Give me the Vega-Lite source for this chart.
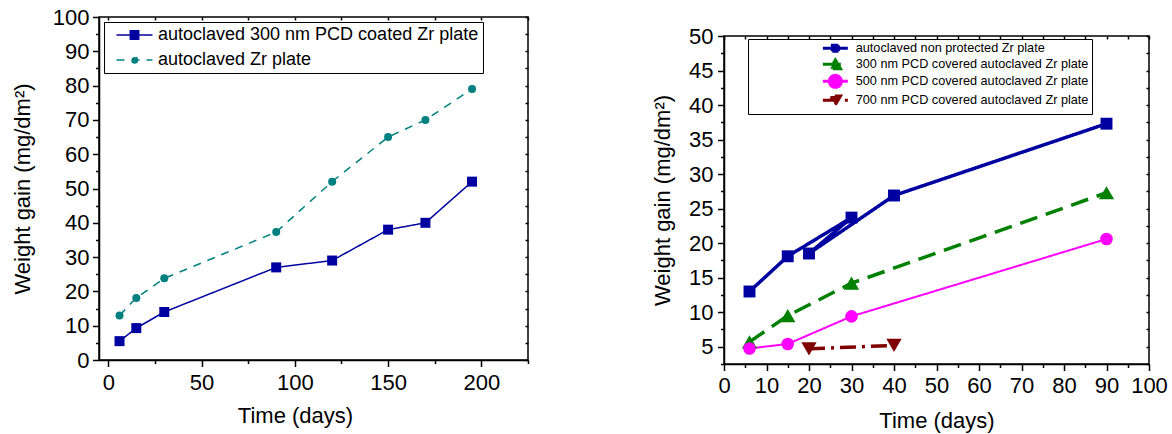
{
  "$schema": "https://vega.github.io/schema/vega-lite/v6.json",
  "background": "white",
  "padding": {"left": 10, "top": 5, "right": 5, "bottom": 5},
  "spacing": 120,
  "resolve": {"scale": {"stroke": "independent", "strokeDash": "independent", "strokeWidth": "independent", "fill": "independent", "shape": "independent", "size": "independent", "x": "independent", "y": "independent"}},
  "config": {
    "font": "Liberation Sans",
    "view": {"stroke": "black", "strokeWidth": 1.5},
    "axis": {"domainColor": "black", "domainWidth": 1.5, "tickColor": "black", "tickWidth": 1.5, "labelColor": "black", "labelFont": "Liberation Sans", "labelFontSize": 22, "titleFont": "Liberation Sans", "titleFontSize": 22, "titleFontWeight": "normal", "titleColor": "black", "grid": false, "labelOverlap": false, "labelFlush": false},
    "legend": {"labelFont": "Liberation Sans", "labelColor": "black", "labelLimit": 600}
  },
  "hconcat": [
    {
      "width": 429,
      "height": 343,
      "data": {"values": [
        {"days": 6, "gain": 5.5, "series": "autoclaved 300 nm PCD coated Zr plate"},
        {"days": 15, "gain": 9.3, "series": "autoclaved 300 nm PCD coated Zr plate"},
        {"days": 30, "gain": 14, "series": "autoclaved 300 nm PCD coated Zr plate"},
        {"days": 90, "gain": 27, "series": "autoclaved 300 nm PCD coated Zr plate"},
        {"days": 120, "gain": 29, "series": "autoclaved 300 nm PCD coated Zr plate"},
        {"days": 150, "gain": 38, "series": "autoclaved 300 nm PCD coated Zr plate"},
        {"days": 170, "gain": 40, "series": "autoclaved 300 nm PCD coated Zr plate"},
        {"days": 195, "gain": 52, "series": "autoclaved 300 nm PCD coated Zr plate"},
        {"days": 6, "gain": 13, "series": "autoclaved Zr plate"},
        {"days": 15, "gain": 18.1, "series": "autoclaved Zr plate"},
        {"days": 30, "gain": 23.8, "series": "autoclaved Zr plate"},
        {"days": 90, "gain": 37.3, "series": "autoclaved Zr plate"},
        {"days": 120, "gain": 52, "series": "autoclaved Zr plate"},
        {"days": 150, "gain": 65, "series": "autoclaved Zr plate"},
        {"days": 170, "gain": 70, "series": "autoclaved Zr plate"},
        {"days": 195, "gain": 79, "series": "autoclaved Zr plate"}
      ]},
      "layer": [
        {
          "mark": {"type": "point", "filled": true, "opacity": 0, "clip": false},
          "encoding": {
            "x": {"field": "days", "type": "quantitative", "scale": {"domain": [-5, 225], "nice": false, "zero": false}, "axis": null},
            "y": {"field": "gain", "type": "quantitative", "scale": {"domain": [0, 100], "nice": false, "zero": false}, "axis": null},
            "fill": {"field": "series", "type": "nominal", "scale": {"domain": ["autoclaved 300 nm PCD coated Zr plate", "autoclaved Zr plate"], "range": ["#0000A0", "#008080"]},
              "legend": {"orient": "none", "legendX": 5, "legendY": 5, "direction": "vertical", "title": null, "padding": 4, "rowPadding": 7, "labelFontSize": 18, "symbolSize": 144, "symbolStrokeWidth": 1.5, "symbolOpacity": 1, "symbolOffset": 17.5, "labelOffset": 14.5, "strokeColor": "black"}},
            "stroke": {"field": "series", "type": "nominal", "scale": {"domain": ["autoclaved 300 nm PCD coated Zr plate", "autoclaved Zr plate"], "range": ["#0000A0", "#008080"]},
              "legend": {"orient": "none", "legendX": 5, "legendY": 5, "direction": "vertical", "title": null, "padding": 4, "rowPadding": 7, "labelFontSize": 18, "symbolSize": 144, "symbolStrokeWidth": 1.5, "symbolOpacity": 1, "symbolOffset": 17.5, "labelOffset": 14.5, "strokeColor": "black"}},
            "strokeDash": {"field": "series", "type": "nominal", "scale": {"domain": ["autoclaved 300 nm PCD coated Zr plate", "autoclaved Zr plate"], "range": [[1, 0], [8, 7]]},
              "legend": {"orient": "none", "legendX": 5, "legendY": 5, "direction": "vertical", "title": null, "padding": 4, "rowPadding": 7, "labelFontSize": 18, "symbolSize": 144, "symbolStrokeWidth": 1.5, "symbolOpacity": 1, "symbolOffset": 17.5, "labelOffset": 14.5, "strokeColor": "black"}},
            "shape": {"field": "series", "type": "nominal", "scale": {"domain": ["autoclaved 300 nm PCD coated Zr plate", "autoclaved Zr plate"], "range": ["M-3,0H3M-0.7,-0.7H0.7V0.7H-0.7Z", "M-3,0H3M0.5,0A0.5,0.5 0 1,1 -0.5,0A0.5,0.5 0 1,1 0.5,0Z"]},
              "legend": {"orient": "none", "legendX": 5, "legendY": 5, "direction": "vertical", "title": null, "padding": 4, "rowPadding": 7, "labelFontSize": 18, "symbolSize": 144, "symbolStrokeWidth": 1.5, "symbolOpacity": 1, "symbolOffset": 17.5, "labelOffset": 14.5, "strokeColor": "black"}}
          }
        },
        {
          "mark": {"type": "line", "strokeWidth": 1.5, "clip": false},
          "encoding": {
            "x": {"field": "days", "type": "quantitative", "scale": {"domain": [-5, 225], "nice": false, "zero": false},
              "axis": {"orient": "bottom", "values": [0, 25, 50, 75, 100, 125, 150, 175, 200, 225], "labelExpr": "datum.value % 50 === 0 ? datum.label : ''", "tickSize": {"condition": {"test": "datum.value % 50 === 0", "value": 6.5}, "value": 3.5}, "labelPadding": 6, "title": "Time (days)", "titlePadding": 12, "titleX": 196}},
            "y": {"field": "gain", "type": "quantitative", "scale": {"domain": [0, 100], "nice": false, "zero": false},
              "axis": {"orient": "left", "values": [0, 5, 10, 15, 20, 25, 30, 35, 40, 45, 50, 55, 60, 65, 70, 75, 80, 85, 90, 95, 100], "labelExpr": "datum.value % 10 === 0 ? datum.label : ''", "tickSize": {"condition": {"test": "datum.value % 10 === 0", "value": 6.5}, "value": 3.5}, "labelPadding": 3.5, "title": "Weight gain  (mg/dm²)", "titlePadding": 18}},
            "stroke": {"field": "series", "type": "nominal", "scale": {"domain": ["autoclaved 300 nm PCD coated Zr plate", "autoclaved Zr plate"], "range": ["#0000A0", "#008080"]}, "legend": null},
            "strokeDash": {"field": "series", "type": "nominal", "scale": {"domain": ["autoclaved 300 nm PCD coated Zr plate", "autoclaved Zr plate"], "range": [[1, 0], [8, 7]]}, "legend": null},
            "order": {"value": null}
          }
        },
        {
          "mark": {"type": "point", "filled": true, "opacity": 1, "clip": false},
          "encoding": {
            "x": {"field": "days", "type": "quantitative", "scale": {"domain": [-5, 225], "nice": false, "zero": false},
              "axis": {"orient": "top", "values": [0, 25, 50, 75, 100, 125, 150, 175, 200, 225], "labels": false, "domain": false, "tickSize": -3, "title": null}},
            "y": {"field": "gain", "type": "quantitative", "scale": {"domain": [0, 100], "nice": false, "zero": false},
              "axis": {"orient": "right", "values": [0, 5, 10, 15, 20, 25, 30, 35, 40, 45, 50, 55, 60, 65, 70, 75, 80, 85, 90, 95, 100], "labels": false, "domain": false, "tickSize": -3, "title": null}},
            "fill": {"field": "series", "type": "nominal", "scale": {"domain": ["autoclaved 300 nm PCD coated Zr plate", "autoclaved Zr plate"], "range": ["#0000A0", "#008080"]}, "legend": null},
            "shape": {"field": "series", "type": "nominal", "scale": {"domain": ["autoclaved 300 nm PCD coated Zr plate", "autoclaved Zr plate"], "range": ["square", "circle"]}, "legend": null},
            "size": {"field": "series", "type": "nominal", "scale": {"type": "ordinal", "domain": ["autoclaved 300 nm PCD coated Zr plate", "autoclaved Zr plate"], "range": [100, 64]}, "legend": null}
          }
        }
      ],
      "resolve": {"axis": {"x": "independent", "y": "independent"}, "scale": {"stroke": "independent", "strokeDash": "independent", "fill": "independent", "shape": "independent", "size": "independent"}}
    },
    {
      "spacing": 6,
      "resolve": {"scale": {"stroke": "independent", "strokeDash": "independent", "strokeWidth": "independent", "fill": "independent", "shape": "independent", "size": "independent"}},
      "vconcat": [
        {"width": 425, "height": 1, "data": {"values": []}, "mark": "point", "view": {"stroke": null}},
        {
          "width": 425,
          "height": 328,
          "data": {"values": [
            {"days": 6, "gain": 13, "series": "autoclaved non protected Zr plate"},
            {"days": 15, "gain": 18.1, "series": "autoclaved non protected Zr plate"},
            {"days": 30, "gain": 23.7, "series": "autoclaved non protected Zr plate"},
            {"days": 20, "gain": 18.5, "series": "autoclaved non protected Zr plate"},
            {"days": 40, "gain": 26.9, "series": "autoclaved non protected Zr plate"},
            {"days": 90, "gain": 37.3, "series": "autoclaved non protected Zr plate"},
            {"days": 6, "gain": 5.7, "series": "300 nm PCD covered autoclaved Zr plate"},
            {"days": 15, "gain": 9.5, "series": "300 nm PCD covered autoclaved Zr plate"},
            {"days": 30, "gain": 14.2, "series": "300 nm PCD covered autoclaved Zr plate"},
            {"days": 90, "gain": 27.3, "series": "300 nm PCD covered autoclaved Zr plate"},
            {"days": 6, "gain": 4.75, "series": "500 nm PCD covered autoclaved Zr plate"},
            {"days": 15, "gain": 5.4, "series": "500 nm PCD covered autoclaved Zr plate"},
            {"days": 30, "gain": 9.4, "series": "500 nm PCD covered autoclaved Zr plate"},
            {"days": 90, "gain": 20.6, "series": "500 nm PCD covered autoclaved Zr plate"},
            {"days": 20, "gain": 4.7, "series": "700 nm PCD covered autoclaved Zr plate"},
            {"days": 40, "gain": 5.2, "series": "700 nm PCD covered autoclaved Zr plate"}
          ]},
          "layer": [
            {
              "mark": {"type": "point", "filled": true, "opacity": 0, "clip": false},
              "encoding": {
                "x": {"field": "days", "type": "quantitative", "scale": {"domain": [0, 100], "nice": false, "zero": false}, "axis": null},
                "y": {"field": "gain", "type": "quantitative", "scale": {"domain": [2.5, 50], "nice": false, "zero": false}, "axis": null},
                "fill": {"field": "series", "type": "nominal", "scale": {"domain": ["autoclaved non protected Zr plate", "300 nm PCD covered autoclaved Zr plate", "500 nm PCD covered autoclaved Zr plate", "700 nm PCD covered autoclaved Zr plate"], "range": ["#0000A0", "#008000", "#FF00FF", "#800000"]},
                  "legend": {"orient": "none", "legendX": 24, "legendY": 3, "direction": "vertical", "title": null, "padding": 3, "rowPadding": -7, "labelFontSize": 12.7, "symbolSize": 64, "symbolStrokeWidth": 3, "symbolOpacity": 1, "symbolOffset": 78, "labelOffset": 14, "strokeColor": "black"}},
                "stroke": {"field": "series", "type": "nominal", "scale": {"domain": ["autoclaved non protected Zr plate", "300 nm PCD covered autoclaved Zr plate", "500 nm PCD covered autoclaved Zr plate", "700 nm PCD covered autoclaved Zr plate"], "range": ["#0000A0", "#008000", "#FF00FF", "#800000"]},
                  "legend": {"orient": "none", "legendX": 24, "legendY": 3, "direction": "vertical", "title": null, "padding": 3, "rowPadding": -7, "labelFontSize": 12.7, "symbolSize": 64, "symbolStrokeWidth": 3, "symbolOpacity": 1, "symbolOffset": 78, "labelOffset": 14, "strokeColor": "black"}},
                "strokeDash": {"field": "series", "type": "nominal", "scale": {"domain": ["autoclaved non protected Zr plate", "300 nm PCD covered autoclaved Zr plate", "500 nm PCD covered autoclaved Zr plate", "700 nm PCD covered autoclaved Zr plate"], "range": [[1, 0], [18, 9], [1, 0], [16, 6, 3, 6]]},
                  "legend": {"orient": "none", "legendX": 24, "legendY": 3, "direction": "vertical", "title": null, "padding": 3, "rowPadding": -7, "labelFontSize": 12.7, "symbolSize": 64, "symbolStrokeWidth": 3, "symbolOpacity": 1, "symbolOffset": 78, "labelOffset": 14, "strokeColor": "black"}},
                "shape": {"field": "series", "type": "nominal", "scale": {"domain": ["autoclaved non protected Zr plate", "300 nm PCD covered autoclaved Zr plate", "500 nm PCD covered autoclaved Zr plate", "700 nm PCD covered autoclaved Zr plate"], "range": ["M-3.125,0H3.125M-0.75,-0.75H0.75V0.75H-0.75Z", "M-3.125,0H3.125M0,-1.1L1.3,1.1L-1.3,1.1Z", "M-3.125,0H3.125M1.5,0A1.5,1.5 0 1,1 -1.5,0A1.5,1.5 0 1,1 1.5,0Z", "M-3.125,0H3.125M0,1.1L1.3,-1.1L-1.3,-1.1Z"]},
                  "legend": {"orient": "none", "legendX": 24, "legendY": 3, "direction": "vertical", "title": null, "padding": 3, "rowPadding": -7, "labelFontSize": 12.7, "symbolSize": 64, "symbolStrokeWidth": 3, "symbolOpacity": 1, "symbolOffset": 78, "labelOffset": 14, "strokeColor": "black"}}
              }
            },
            {
              "mark": {"type": "line", "clip": false},
              "encoding": {
                "x": {"field": "days", "type": "quantitative", "scale": {"domain": [0, 100], "nice": false, "zero": false},
                  "axis": {"orient": "bottom", "values": [0, 5, 10, 15, 20, 25, 30, 35, 40, 45, 50, 55, 60, 65, 70, 75, 80, 85, 90, 95, 100], "labelExpr": "datum.value % 10 === 0 ? datum.label : ''", "tickSize": {"condition": {"test": "datum.value % 10 === 0", "value": 6.5}, "value": 3.5}, "labelPadding": 4.5, "title": "Time (days)", "titlePadding": 14}},
                "y": {"field": "gain", "type": "quantitative", "scale": {"domain": [2.5, 50], "nice": false, "zero": false},
                  "axis": {"orient": "left", "values": [2.5, 5, 7.5, 10, 12.5, 15, 17.5, 20, 22.5, 25, 27.5, 30, 32.5, 35, 37.5, 40, 42.5, 45, 47.5, 50], "labelExpr": "datum.value % 5 === 0 ? datum.label : ''", "tickSize": {"condition": {"test": "datum.value % 5 === 0", "value": 6.5}, "value": 3.5}, "labelPadding": 4.5, "title": "Weight gain  (mg/dm²)", "titlePadding": 14}},
                "stroke": {"field": "series", "type": "nominal", "scale": {"domain": ["autoclaved non protected Zr plate", "300 nm PCD covered autoclaved Zr plate", "500 nm PCD covered autoclaved Zr plate", "700 nm PCD covered autoclaved Zr plate"], "range": ["#0000A0", "#008000", "#FF00FF", "#800000"]}, "legend": null},
                "strokeDash": {"field": "series", "type": "nominal", "scale": {"domain": ["autoclaved non protected Zr plate", "300 nm PCD covered autoclaved Zr plate", "500 nm PCD covered autoclaved Zr plate", "700 nm PCD covered autoclaved Zr plate"], "range": [[1, 0], [18, 9], [1, 0], [16, 6, 3, 6]]}, "legend": null},
                "strokeWidth": {"field": "series", "type": "nominal", "scale": {"type": "ordinal", "domain": ["autoclaved non protected Zr plate", "300 nm PCD covered autoclaved Zr plate", "500 nm PCD covered autoclaved Zr plate", "700 nm PCD covered autoclaved Zr plate"], "range": [3.5, 3.5, 2, 3.5]}, "legend": null},
                "order": {"value": null}
              }
            },
            {
              "mark": {"type": "point", "filled": true, "opacity": 1, "clip": false},
              "encoding": {
                "x": {"field": "days", "type": "quantitative", "scale": {"domain": [0, 100], "nice": false, "zero": false},
                  "axis": {"orient": "top", "values": [0, 5, 10, 15, 20, 25, 30, 35, 40, 45, 50, 55, 60, 65, 70, 75, 80, 85, 90, 95, 100], "labels": false, "domain": false, "tickSize": -3, "title": null}},
                "y": {"field": "gain", "type": "quantitative", "scale": {"domain": [2.5, 50], "nice": false, "zero": false},
                  "axis": {"orient": "right", "values": [2.5, 5, 7.5, 10, 12.5, 15, 17.5, 20, 22.5, 25, 27.5, 30, 32.5, 35, 37.5, 40, 42.5, 45, 47.5, 50], "labels": false, "domain": false, "tickSize": -3, "title": null}},
                "fill": {"field": "series", "type": "nominal", "scale": {"domain": ["autoclaved non protected Zr plate", "300 nm PCD covered autoclaved Zr plate", "500 nm PCD covered autoclaved Zr plate", "700 nm PCD covered autoclaved Zr plate"], "range": ["#0000A0", "#008000", "#FF00FF", "#800000"]}, "legend": null},
                "shape": {"field": "series", "type": "nominal", "scale": {"domain": ["autoclaved non protected Zr plate", "300 nm PCD covered autoclaved Zr plate", "500 nm PCD covered autoclaved Zr plate", "700 nm PCD covered autoclaved Zr plate"], "range": ["square", "triangle-up", "circle", "triangle-down"]}, "legend": null},
                "size": {"field": "series", "type": "nominal", "scale": {"type": "ordinal", "domain": ["autoclaved non protected Zr plate", "300 nm PCD covered autoclaved Zr plate", "500 nm PCD covered autoclaved Zr plate", "700 nm PCD covered autoclaved Zr plate"], "range": [142, 234, 158, 234]}, "legend": null}
              }
            }
          ],
          "resolve": {"axis": {"x": "independent", "y": "independent"}, "scale": {"stroke": "independent", "strokeDash": "independent", "strokeWidth": "independent", "fill": "independent", "shape": "independent", "size": "independent"}}
        }
      ]
    }
  ]
}
